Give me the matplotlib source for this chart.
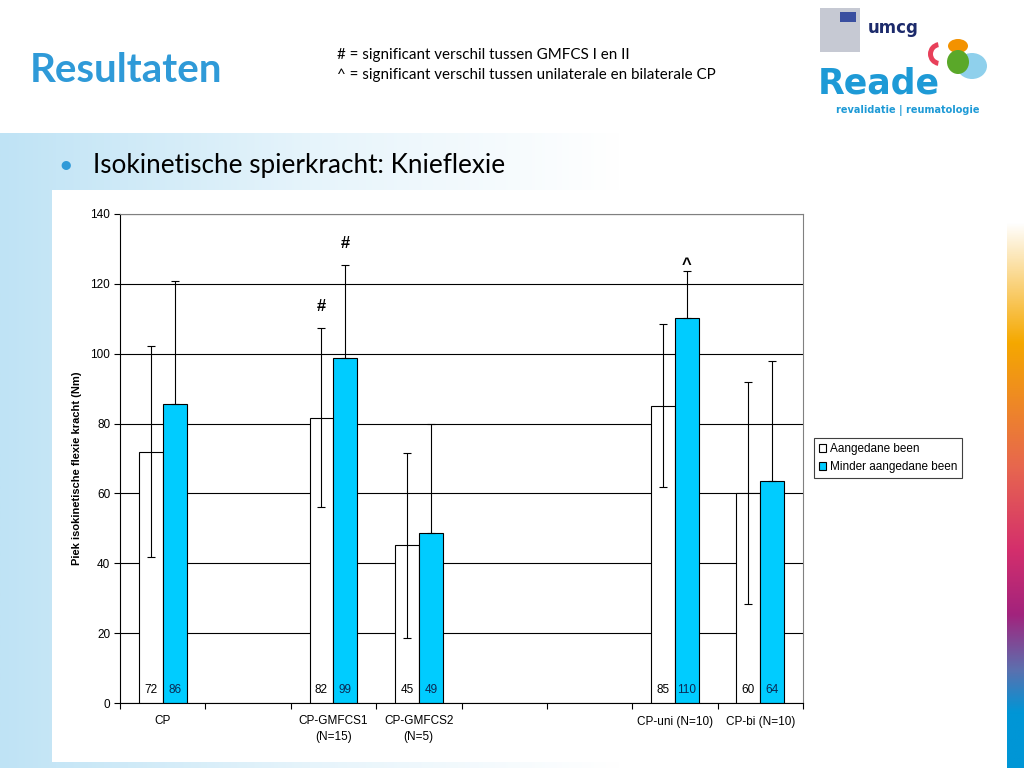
import numpy as np
import matplotlib
matplotlib.use('Agg')
import matplotlib.pyplot as plt
from matplotlib.colors import LinearSegmentedColormap
from matplotlib.patches import Rectangle, Ellipse, Wedge

# chart data
groups = ['CP', '', 'CP-GMFCS1\n(N=15)', 'CP-GMFCS2\n(N=5)', '', '', 'CP-uni (N=10)', 'CP-bi (N=10)']
affected = [71.9, np.nan, 81.7, 45.1, np.nan, np.nan, 85.1, 60.2]
lessAffected = [85.6, np.nan, 98.8, 48.6, np.nan, np.nan, 110.3, 63.6]
sdAffected = [30.2, np.nan, 25.7, 26.4, np.nan, np.nan, 23.4, 31.8]
sdLessAffected = [35.3, np.nan, 26.6, 31.4, np.nan, np.nan, 13.5, 34.4]
marksAffected = ['', '', '#', '', '', '', '', '']
marksLessAffected = ['', '', '#', '', '', '', '^', '']
seriesNames = ['Aangedane been', 'Minder aangedane been']
yTicks = [0, 20, 40, 60, 80, 100, 120, 140]

chartFont = 'Liberation Sans'
slideFont = 'Lato'
W, H = 1024, 768

fig = plt.figure(figsize=(10.24, 7.68), dpi=100)

# ---- slide background ----
bg = fig.add_axes([0, 0, 1, 1])
bg.set_xlim(0, W)
bg.set_ylim(H, 0)
bg.set_axis_off()

blueFade = LinearSegmentedColormap.from_list('fade', ['#bfe3f5', '#e6f4fb', '#ffffff'])
grad = np.linspace(0, 1, 256).reshape(1, -1)
bg.imshow(grad, extent=(0, 620, H, 133), cmap=blueFade, aspect='auto', zorder=0)
bg.add_patch(Rectangle((52, 190), 953, 572, facecolor='white', edgecolor='none', zorder=1))

stripe = LinearSegmentedColormap.from_list('stripe', [(0, '#ffffff'), (0.22, '#f5a800'),
                                                      (0.45, '#e7664f'), (0.6, '#d42f6c'),
                                                      (0.72, '#a2237d'), (0.82, '#5d6fae'),
                                                      (0.9, '#0096d6'), (1, '#0096d6')])
bg.imshow(np.linspace(0, 1, 256).reshape(-1, 1), extent=(1007, W, H, 222), cmap=stripe,
          aspect='auto', zorder=1)

bg.text(30, 70, 'Resultaten', fontsize=29, fontweight='bold', color='#2f9ad8',
        family=slideFont, va='center', ha='left', zorder=3)
bg.text(337, 55, '# = significant verschil tussen GMFCS I en II', fontsize=10.9,
        family=slideFont, va='center', zorder=3)
bg.text(337, 75, '^ = significant verschil tussen unilaterale en bilaterale CP', fontsize=10.9,
        family=slideFont, va='center', zorder=3)
bg.text(58, 165, '\u2022', fontsize=18, color='#2f9ad8', family=slideFont, va='center', zorder=3)
bg.text(93, 165, 'Isokinetische spierkracht: Knieflexie', fontsize=18.8, family=slideFont,
        va='center', zorder=3)

# logo, roughly
bg.add_patch(Rectangle((820, 8), 40, 44, facecolor='#b8bcc8', edgecolor='none', alpha=0.8, zorder=2))
bg.add_patch(Rectangle((840, 12), 16, 10, facecolor='#3a4fa0', edgecolor='none', zorder=2))
bg.text(868, 28, 'umcg', fontsize=12, fontweight='bold', color='#1c2a6b', family='DejaVu Sans',
        va='center', zorder=3)
bg.add_patch(Wedge((940, 54), 12, 100, 260, width=5, facecolor='#e8405a', edgecolor='none', zorder=2))
bg.add_patch(Ellipse((958, 46), 20, 14, facecolor='#f39200', edgecolor='none', zorder=2))
bg.add_patch(Ellipse((972, 66), 30, 26, facecolor='#8fd0ec', edgecolor='none', zorder=2))
bg.add_patch(Ellipse((958, 62), 22, 24, facecolor='#5aa829', edgecolor='none', zorder=2))
bg.text(818, 84, 'Reade', fontsize=25, fontweight='bold', color='#1e9ad6', family='DejaVu Sans',
        va='center', zorder=3)
bg.text(836, 110, 'revalidatie | reumatologie', fontsize=7, fontweight='bold', color='#1e9ad6',
        family='DejaVu Sans', va='center', zorder=3)

# ---- chart ----
ax = fig.add_axes([120 / W, 1 - 703 / H, 683 / W, 489 / H])
x = np.arange(len(groups))
barWidth = 0.28
xA = x - barWidth / 2
xL = x + barWidth / 2

barsA = ax.bar(xA, affected, barWidth, color='white', edgecolor='black', linewidth=0.8,
               label=seriesNames[0], zorder=2)
barsL = ax.bar(xL, lessAffected, barWidth, color='#00ccff', edgecolor='black', linewidth=0.8,
               label=seriesNames[1], zorder=2)
ax.errorbar(xA, affected, yerr=sdAffected, fmt='none', ecolor='black', elinewidth=0.8,
            capsize=3, capthick=0.8, zorder=3)
ax.errorbar(xL, lessAffected, yerr=[np.zeros(len(groups)), sdLessAffected], fmt='none',
            ecolor='black', elinewidth=0.8, capsize=3, capthick=0.8, zorder=3)

markOffset = {'#': 4.0, '^': -0.5}
for i in range(len(groups)):
    if not np.isnan(affected[i]):
        ax.text(xA[i], 3.8, f'{affected[i]:.0f}', ha='center', va='center', fontsize=8.5,
                family=chartFont, color='black', zorder=4)
        ax.text(xL[i], 3.8, f'{lessAffected[i]:.0f}', ha='center', va='center', fontsize=8.5,
                family=chartFont, color='#0b2a55', zorder=4)
    if marksAffected[i]:
        m = marksAffected[i]
        ax.text(xA[i], affected[i] + sdAffected[i] + markOffset[m], m, ha='center',
                va='bottom', fontsize=12, fontweight='bold', family=chartFont, zorder=4)
    if marksLessAffected[i]:
        m = marksLessAffected[i]
        ax.text(xL[i], lessAffected[i] + sdLessAffected[i] + markOffset[m], m, ha='center',
                va='bottom', fontsize=12, fontweight='bold', family=chartFont, zorder=4)

ax.set_xlim(-0.5, len(groups) - 0.5)
ax.set_ylim(0, 140)
ax.set_yticks(yTicks)
ax.set_yticklabels([str(t) for t in yTicks], family=chartFont, fontsize=8.5)
ax.set_xticks(x)
ax.set_xticklabels(groups, family=chartFont, fontsize=8.5, linespacing=1.4)
ax.set_xticks(np.arange(len(groups) + 1) - 0.5, minor=True)
ax.tick_params(axis='x', which='major', length=0, pad=9)
ax.tick_params(axis='x', which='minor', length=4, direction='out', width=0.8)
ax.tick_params(axis='y', length=4, direction='out', width=0.8, pad=3)
ax.yaxis.grid(True, color='black', linewidth=0.8)
ax.set_axisbelow(True)
for side in ['top', 'right']:
    ax.spines[side].set_color('#808080')
for side in ['left', 'bottom']:
    ax.spines[side].set_color('black')
    ax.spines[side].set_linewidth(0.8)

fig.text(77 / W, 1 - 468 / H, 'Piek isokinetische flexie kracht (Nm)', rotation=90,
         ha='center', va='center', fontsize=8, fontweight='bold', family=chartFont)

leg = fig.legend(handles=[barsA, barsL], labels=seriesNames, loc='upper left',
                 bbox_to_anchor=(814 / W, 1 - 438 / H), prop={'family': chartFont, 'size': 8.5},
                 frameon=True, fancybox=False, edgecolor='#404040', framealpha=1,
                 handlelength=0.65, handleheight=0.65, handletextpad=0.3, borderpad=0.4,
                 labelspacing=0.55, borderaxespad=0)
leg.get_frame().set_linewidth(0.8)

fig.savefig('out.png', dpi=100)
